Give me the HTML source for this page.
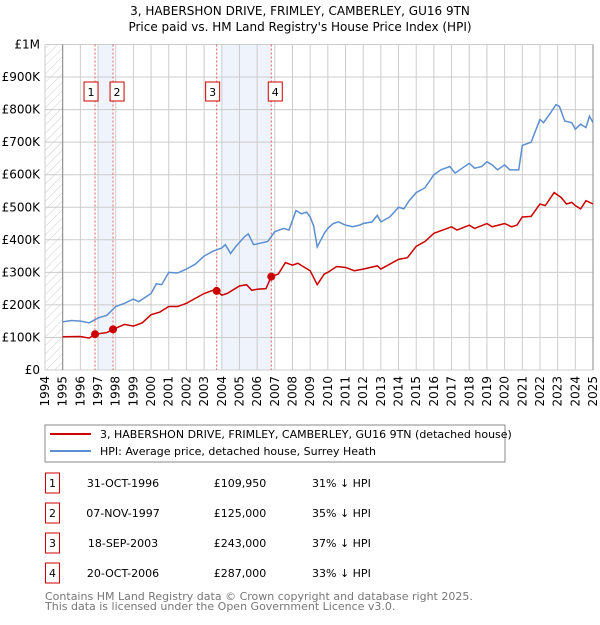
<!DOCTYPE html>
<html><head><meta charset="utf-8"><style>
body{margin:0;background:#fff;width:600px;height:620px;overflow:hidden}
svg{font-family:"DejaVu Sans","Liberation Sans",sans-serif}
</style></head><body>
<svg id="c" width="600" height="620">
<defs><pattern id="h" width="6" height="6" patternUnits="userSpaceOnUse" patternTransform="rotate(45)"><line x1="0" y1="0" x2="0" y2="6" stroke="#ccc" stroke-width="1"/></pattern></defs>
<text x="300" y="15" text-anchor="middle" font-size="12">3, HABERSHON DRIVE, FRIMLEY, CAMBERLEY, GU16 9TN</text>
<text x="300" y="31" text-anchor="middle" font-size="12">Price paid vs. HM Land Registry's House Price Index (HPI)</text>
<g id="plot"></g>
<rect x="45" y="425" width="460" height="37" fill="none" stroke="#888"/>
<line x1="50" y1="434" x2="91" y2="434" stroke="#cc0000" stroke-width="2"/>
<text x="100" y="438" font-size="11">3, HABERSHON DRIVE, FRIMLEY, CAMBERLEY, GU16 9TN (detached house)</text>
<line x1="50" y1="451" x2="91" y2="451" stroke="#5b8fd1" stroke-width="2"/>
<text x="100" y="455" font-size="11">HPI: Average price, detached house, Surrey Heath</text>
<g id="tbl" font-size="11"></g>
<text x="45" y="600" font-size="11" fill="#777">Contains HM Land Registry data © Crown copyright and database right 2025.</text>
<text x="45" y="610" font-size="11" fill="#777">This data is licensed under the Open Government Licence v3.0.</text>
</svg>
<script>
const hpiYears=[1995,1995.5,1996,1996.5,1997,1997.5,1998,1998.5,1999,1999.3,2000,2000.3,2000.6,2001,2001.5,2002,2002.5,2003,2003.5,2004,2004.2,2004.5,2004.8,2005.3,2005.5,2005.8,2006.2,2006.6,2007,2007.5,2007.8,2008.2,2008.5,2008.8,2009,2009.2,2009.4,2009.8,2010,2010.3,2010.6,2011,2011.4,2011.8,2012,2012.5,2012.8,2013,2013.5,2014,2014.3,2014.6,2015,2015.5,2016,2016.4,2016.9,2017.2,2017.6,2018,2018.3,2018.7,2019,2019.3,2019.6,2020,2020.3,2020.8,2021,2021.5,2022,2022.2,2022.6,2022.9,2023.1,2023.4,2023.8,2024,2024.3,2024.6,2024.8,2025];
const hpiValues=[148,152,150,145,160,168,195,205,218,210,235,265,262,300,298,310,325,350,365,375,385,358,380,410,418,385,390,395,425,435,430,490,480,485,470,442,378,420,435,450,455,445,440,445,450,455,475,455,470,500,495,520,545,560,600,615,625,605,620,635,620,625,640,630,615,630,615,615,690,700,770,760,790,815,810,765,760,740,755,745,780,760];
const propYears=[1995,1996,1996.5,1996.83,1997.5,1997.85,1998.5,1999,1999.5,2000,2000.5,2001,2001.5,2002,2002.5,2003,2003.5,2003.71,2004,2004.3,2005,2005.4,2005.7,2006,2006.5,2006.8,2007.2,2007.6,2008,2008.3,2008.6,2009,2009.4,2009.8,2010,2010.5,2011,2011.5,2012,2012.8,2013,2013.5,2014,2014.5,2015,2015.5,2016,2016.5,2017,2017.3,2018,2018.3,2019,2019.3,2020,2020.4,2020.7,2021,2021.5,2022,2022.3,2022.8,2023.2,2023.5,2023.8,2024,2024.3,2024.6,2025];
const propValues=[102,103,98,110,115,125,140,135,145,170,178,195,195,205,220,235,245,243,230,235,258,262,245,248,250,287,295,330,322,328,318,305,262,295,300,318,315,305,310,320,310,325,340,345,380,395,420,430,440,430,445,435,450,440,450,440,445,470,472,510,505,545,530,510,515,505,495,520,510];
const saleYears=[1996.83,1997.85,2003.71,2006.8];
const saleValues=[109.95,125,243,287];
const saleLabels=["1","2","3","4"];
const saleDates=["31-OCT-1996","07-NOV-1997","18-SEP-2003","20-OCT-2006"];
const salePrices=["£109,950","£125,000","£243,000","£287,000"];
const saleDiffs=["31% ↓ HPI","35% ↓ HPI","37% ↓ HPI","33% ↓ HPI"];
const yTicks=[0,100,200,300,400,500,600,700,800,900,1000];
const yTickLabels=["£0","£100K","£200K","£300K","£400K","£500K","£600K","£700K","£800K","£900K","£1M"];
const xTicks=[];for(let y=1994;y<=2025;y++)xTicks.push(y);

const NS="http://www.w3.org/2000/svg";
const X0=45,X1=593,Y0=370,Y1=44.5;
const xs=y=>X0+(y-1994)/31*(X1-X0);
const ys=v=>Y0-v/1000*(Y0-Y1);
const plot=document.getElementById('plot');
function mk(tag,a,p){const e=document.createElementNS(NS,tag);for(const k in a)e.setAttribute(k,a[k]);(p||plot).appendChild(e);return e;}

let e;
e=mk('rect',{x:X0,y:Y1,width:xs(1995)-X0,height:Y0-Y1,fill:'url(#h)'});


e=mk('rect',{x:xs(1997),y:Y1,width:xs(1997.85)-xs(1997),height:Y0-Y1,fill:'#eef3fc'});


e=mk('rect',{x:xs(2004),y:Y1,width:xs(2006.8)-xs(2004),height:Y0-Y1,fill:'#eef3fc'});



xTicks.forEach(t=>{
  e=mk('line',{x1:xs(t),x2:xs(t),y1:Y1,y2:Y0,stroke:'#ccc'});
  
  
  e=mk('text',{x:0,y:0,'font-size':12,'text-anchor':'end',transform:`translate(${xs(t)+4},${Y0+6}) rotate(-90)`});
  e.textContent=t;
  
  
});
yTicks.forEach((t,i)=>{
  e=mk('line',{x1:X0,x2:X1,y1:ys(t),y2:ys(t),stroke:'#ccc'});
  
  
  e=mk('text',{x:40,y:ys(t)+4,'font-size':12,'text-anchor':'end'});
  e.textContent=yTickLabels[i];
  
  
});
e=mk('line',{x1:xs(1995),x2:xs(1995),y1:Y1,y2:Y0,stroke:'#888'});


e=mk('line',{x1:X1,x2:X1,y1:Y1,y2:Y0,stroke:'#888'});



saleYears.forEach((y,i)=>{
  e=mk('line',{x1:xs(y),x2:xs(y),y1:Y1,y2:Y0,stroke:'#e06060','stroke-dasharray':'2,2'});
  
  
});

e=mk('polyline',{points:hpiYears.map((y,i)=>xs(y)+','+ys(hpiValues[i])).join(' '),fill:'none',stroke:'#5b8fd1','stroke-width':1.5});


e=mk('polyline',{points:propYears.map((y,i)=>xs(y)+','+ys(propValues[i])).join(' '),fill:'none',stroke:'#cc0000','stroke-width':1.5});



saleYears.forEach((y,i)=>{
  e=mk('circle',{cx:xs(y),cy:ys(saleValues[i]),r:4,fill:'#cc0000'});
  
  
  const bx=xs(y)+(i%2===0?-11:-3);
  e=mk('rect',{x:bx,y:82,width:14,height:19,fill:'#fff',stroke:'#cc0000'});
  
  
  e=mk('text',{x:bx+7,y:96,'font-size':11,'text-anchor':'middle'});
  e.textContent=saleLabels[i];
  
  
});

const tbl=document.getElementById('tbl');
saleLabels.forEach((l,i)=>{
  const cy=483+i*30;
  e=mk('rect',{x:45.5,y:cy-10,width:14,height:20,fill:'#fff',stroke:'#cc0000'},tbl);
  
  
  e=mk('text',{x:52.5,y:cy+4,'text-anchor':'middle'},tbl);e.textContent=l;
  
  
  e=mk('text',{x:123,y:cy+4,'text-anchor':'middle'},tbl);e.textContent=saleDates[i];
  
  
  e=mk('text',{x:240,y:cy+4,'text-anchor':'middle'},tbl);e.textContent=salePrices[i];
  
  
  e=mk('text',{x:312,y:cy+4},tbl);e.textContent=saleDiffs[i];
  
  
});
</script>
</body></html>
